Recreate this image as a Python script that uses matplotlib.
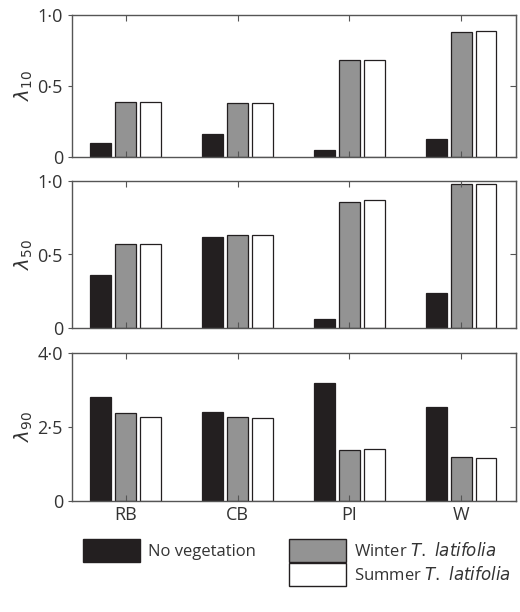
import matplotlib
matplotlib.use("Agg")
import matplotlib.pyplot as plt
from matplotlib.patches import Patch
import numpy as np

plt.rcParams['font.family'] = ['Open Sans', 'DejaVu Sans']

sites = ["RB", "CB", "PI", "W"]
series = ["No vegetation", "Winter T. latifolia", "Summer T. latifolia"]
lam10 = [[0.10, 0.16, 0.05, 0.13], [0.39, 0.38, 0.68, 0.88], [0.39, 0.38, 0.68, 0.89]]
lam50 = [[0.36, 0.62, 0.06, 0.24], [0.57, 0.63, 0.86, 0.98], [0.57, 0.63, 0.87, 0.98]]
lam90 = [[3.5, 3.0, 4.0, 3.18], [2.97, 2.84, 1.72, 1.49], [2.84, 2.8, 1.76, 1.45]]
colors = ["#231f20", "#939393", "#ffffff"]

fig = plt.figure(figsize=(5.2, 6.12), dpi=100)
W, H = 520, 612
panels = [
    (lam10, 15, 157, (0, 1.0), [0, 0.5, 1.0], ["0", "0·5", "1·0"], r"$\lambda_{10}$"),
    (lam50, 181, 328, (0, 1.0), [0, 0.5, 1.0], ["0", "0·5", "1·0"], r"$\lambda_{50}$"),
    (lam90, 353, 501, (0, 5.0), [0, 2.5, 5.0], ["0", "2·5", "4·0"], r"$\lambda_{90}$"),
]
x = np.arange(len(sites))
for data, top, bot, ylim, yt, ytl, lab in panels:
    ax = fig.add_axes([72 / W, 1 - bot / H, (516 - 72) / W, (bot - top) / H])
    for i, vals in enumerate(data):
        ax.bar(x + (i - 1) * 0.223, vals, width=0.185, color=colors[i],
               edgecolor="#231f20", linewidth=0.9)
    ax.set_xlim(-0.48, 3.49)
    ax.set_ylim(*ylim)
    ax.set_yticks(yt)
    ax.set_yticklabels(ytl, fontsize=13, color="#333333")
    ax.set_ylabel(lab, fontsize=14, color="#333333", labelpad=2)
    ax.set_xticks(x)
    ax.tick_params(axis="x", direction="in", top=True, length=4, color="#555555")
    ax.tick_params(axis="y", direction="out", length=3, color="#555555")
    ax2 = ax.secondary_yaxis("right")
    ax2.set_yticks(yt)
    ax2.set_yticklabels([])
    ax2.tick_params(direction="in", length=4, color="#555555")
    ax2.spines["right"].set_color("#555555")
    for s in ax.spines.values():
        s.set_color("#555555")
        s.set_linewidth(1.0)
    if bot == 501:
        ax.set_xticklabels(sites, fontsize=13, color="#333333")
    else:
        ax.set_xticklabels([])

handles = [Patch(facecolor=colors[0], edgecolor="#231f20"),
           Patch(facecolor="none", edgecolor="none"),
           Patch(facecolor=colors[1], edgecolor="#231f20"),
           Patch(facecolor=colors[2], edgecolor="#231f20")]
labels = ["No vegetation", "", "Winter $\\it{T.\\ latifolia}$", "Summer $\\it{T.\\ latifolia}$"]
fig.legend(handles, labels, ncol=2, loc="upper left", bbox_to_anchor=(68 / W, 1 - 524 / H),
           frameon=False, fontsize=12, handlelength=3.4, handleheight=1.7,
           labelspacing=0.1, columnspacing=2.0, handletextpad=0.5, labelcolor="#333333")
fig.savefig("out.png", dpi=100)
